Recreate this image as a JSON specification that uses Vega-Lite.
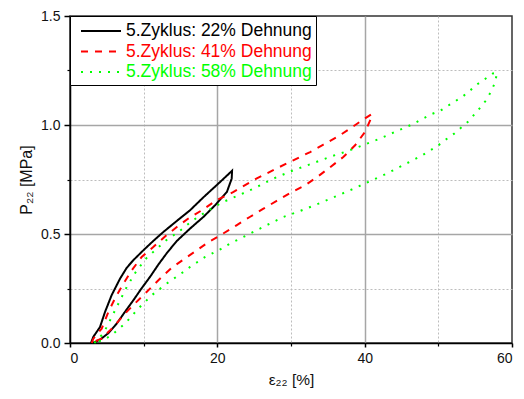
{
"$schema":"https://vega.github.io/schema/vega-lite/v6.json",
"width":442,"height":327,
"autosize":{"type":"none"},
"padding":{"left":70,"top":16,"right":12,"bottom":56},
"background":"white",
"config":{"view":{"stroke":"#333333","strokeWidth":1.5},"font":"Liberation Sans"},
"datasets":{"d":[
{"s":"5.Zyklus: 22% Dehnung","i":1,"x":2.85,"y":0},
{"s":"5.Zyklus: 22% Dehnung","i":2,"x":3.16,"y":0.028},
{"s":"5.Zyklus: 22% Dehnung","i":3,"x":4.07,"y":0.073},
{"s":"5.Zyklus: 22% Dehnung","i":4,"x":4.75,"y":0.142},
{"s":"5.Zyklus: 22% Dehnung","i":5,"x":5.66,"y":0.22},
{"s":"5.Zyklus: 22% Dehnung","i":6,"x":6.79,"y":0.295},
{"s":"5.Zyklus: 22% Dehnung","i":7,"x":7.7,"y":0.345},
{"s":"5.Zyklus: 22% Dehnung","i":8,"x":8.6,"y":0.38},
{"s":"5.Zyklus: 22% Dehnung","i":9,"x":9.95,"y":0.425},
{"s":"5.Zyklus: 22% Dehnung","i":10,"x":11.3,"y":0.468},
{"s":"5.Zyklus: 22% Dehnung","i":11,"x":12.7,"y":0.51},
{"s":"5.Zyklus: 22% Dehnung","i":12,"x":14.5,"y":0.56},
{"s":"5.Zyklus: 22% Dehnung","i":13,"x":16.3,"y":0.609},
{"s":"5.Zyklus: 22% Dehnung","i":14,"x":18.1,"y":0.668},
{"s":"5.Zyklus: 22% Dehnung","i":15,"x":20.1,"y":0.73},
{"s":"5.Zyklus: 22% Dehnung","i":16,"x":22.0,"y":0.79},
{"s":"5.Zyklus: 22% Dehnung","i":17,"x":21.95,"y":0.754},
{"s":"5.Zyklus: 22% Dehnung","i":18,"x":21.3,"y":0.693},
{"s":"5.Zyklus: 22% Dehnung","i":19,"x":19.7,"y":0.632},
{"s":"5.Zyklus: 22% Dehnung","i":20,"x":18.1,"y":0.578},
{"s":"5.Zyklus: 22% Dehnung","i":21,"x":16.3,"y":0.525},
{"s":"5.Zyklus: 22% Dehnung","i":22,"x":14.5,"y":0.468},
{"s":"5.Zyklus: 22% Dehnung","i":23,"x":13.2,"y":0.415},
{"s":"5.Zyklus: 22% Dehnung","i":24,"x":12.0,"y":0.36},
{"s":"5.Zyklus: 22% Dehnung","i":25,"x":10.86,"y":0.303},
{"s":"5.Zyklus: 22% Dehnung","i":26,"x":9.7,"y":0.25},
{"s":"5.Zyklus: 22% Dehnung","i":27,"x":8.6,"y":0.196},
{"s":"5.Zyklus: 22% Dehnung","i":28,"x":7.4,"y":0.14},
{"s":"5.Zyklus: 22% Dehnung","i":29,"x":6.34,"y":0.089},
{"s":"5.Zyklus: 22% Dehnung","i":30,"x":5.2,"y":0.045},
{"s":"5.Zyklus: 22% Dehnung","i":31,"x":4.07,"y":0.015},
{"s":"5.Zyklus: 22% Dehnung","i":32,"x":3.4,"y":0.004},
{"s":"5.Zyklus: 22% Dehnung","i":33,"x":2.85,"y":0},
{"s":"5.Zyklus: 41% Dehnung","i":1,"x":2.95,"y":0},
{"s":"5.Zyklus: 41% Dehnung","i":2,"x":3.17,"y":0.02},
{"s":"5.Zyklus: 41% Dehnung","i":3,"x":4.3,"y":0.066},
{"s":"5.Zyklus: 41% Dehnung","i":4,"x":5.2,"y":0.142},
{"s":"5.Zyklus: 41% Dehnung","i":5,"x":6.1,"y":0.204},
{"s":"5.Zyklus: 41% Dehnung","i":6,"x":7.24,"y":0.272},
{"s":"5.Zyklus: 41% Dehnung","i":7,"x":8.37,"y":0.333},
{"s":"5.Zyklus: 41% Dehnung","i":8,"x":9.73,"y":0.395},
{"s":"5.Zyklus: 41% Dehnung","i":9,"x":11.3,"y":0.44},
{"s":"5.Zyklus: 41% Dehnung","i":10,"x":12.9,"y":0.489},
{"s":"5.Zyklus: 41% Dehnung","i":11,"x":14.5,"y":0.532},
{"s":"5.Zyklus: 41% Dehnung","i":12,"x":16.06,"y":0.571},
{"s":"5.Zyklus: 41% Dehnung","i":13,"x":17.9,"y":0.609},
{"s":"5.Zyklus: 41% Dehnung","i":14,"x":19.9,"y":0.655},
{"s":"5.Zyklus: 41% Dehnung","i":15,"x":22.2,"y":0.693},
{"s":"5.Zyklus: 41% Dehnung","i":16,"x":25.3,"y":0.754},
{"s":"5.Zyklus: 41% Dehnung","i":17,"x":28.0,"y":0.8},
{"s":"5.Zyklus: 41% Dehnung","i":18,"x":30.3,"y":0.838},
{"s":"5.Zyklus: 41% Dehnung","i":19,"x":32.6,"y":0.876},
{"s":"5.Zyklus: 41% Dehnung","i":20,"x":34.4,"y":0.91},
{"s":"5.Zyklus: 41% Dehnung","i":21,"x":36.4,"y":0.948},
{"s":"5.Zyklus: 41% Dehnung","i":22,"x":38.0,"y":0.983},
{"s":"5.Zyklus: 41% Dehnung","i":23,"x":39.8,"y":1.025},
{"s":"5.Zyklus: 41% Dehnung","i":24,"x":40.95,"y":1.05},
{"s":"5.Zyklus: 41% Dehnung","i":25,"x":40.95,"y":1.037},
{"s":"5.Zyklus: 41% Dehnung","i":26,"x":40.05,"y":0.968},
{"s":"5.Zyklus: 41% Dehnung","i":27,"x":38.7,"y":0.907},
{"s":"5.Zyklus: 41% Dehnung","i":28,"x":37.1,"y":0.853},
{"s":"5.Zyklus: 41% Dehnung","i":29,"x":35.3,"y":0.806},
{"s":"5.Zyklus: 41% Dehnung","i":30,"x":33.7,"y":0.765},
{"s":"5.Zyklus: 41% Dehnung","i":31,"x":31.9,"y":0.723},
{"s":"5.Zyklus: 41% Dehnung","i":32,"x":30.0,"y":0.69},
{"s":"5.Zyklus: 41% Dehnung","i":33,"x":28.06,"y":0.652},
{"s":"5.Zyklus: 41% Dehnung","i":34,"x":26.2,"y":0.615},
{"s":"5.Zyklus: 41% Dehnung","i":35,"x":24.4,"y":0.578},
{"s":"5.Zyklus: 41% Dehnung","i":36,"x":22.6,"y":0.54},
{"s":"5.Zyklus: 41% Dehnung","i":37,"x":20.4,"y":0.494},
{"s":"5.Zyklus: 41% Dehnung","i":38,"x":18.8,"y":0.463},
{"s":"5.Zyklus: 41% Dehnung","i":39,"x":17.2,"y":0.425},
{"s":"5.Zyklus: 41% Dehnung","i":40,"x":15.4,"y":0.383},
{"s":"5.Zyklus: 41% Dehnung","i":41,"x":13.8,"y":0.345},
{"s":"5.Zyklus: 41% Dehnung","i":42,"x":12.0,"y":0.288},
{"s":"5.Zyklus: 41% Dehnung","i":43,"x":10.4,"y":0.234},
{"s":"5.Zyklus: 41% Dehnung","i":44,"x":8.8,"y":0.181},
{"s":"5.Zyklus: 41% Dehnung","i":45,"x":7.47,"y":0.135},
{"s":"5.Zyklus: 41% Dehnung","i":46,"x":5.88,"y":0.073},
{"s":"5.Zyklus: 41% Dehnung","i":47,"x":4.3,"y":0.02},
{"s":"5.Zyklus: 41% Dehnung","i":48,"x":3.17,"y":0.005},
{"s":"5.Zyklus: 41% Dehnung","i":49,"x":2.95,"y":0},
{"s":"5.Zyklus: 58% Dehnung","i":1,"x":3.3,"y":0},
{"s":"5.Zyklus: 58% Dehnung","i":2,"x":4.5,"y":0.043},
{"s":"5.Zyklus: 58% Dehnung","i":3,"x":4.98,"y":0.073},
{"s":"5.Zyklus: 58% Dehnung","i":4,"x":6.56,"y":0.18},
{"s":"5.Zyklus: 58% Dehnung","i":5,"x":7.7,"y":0.257},
{"s":"5.Zyklus: 58% Dehnung","i":6,"x":9.05,"y":0.333},
{"s":"5.Zyklus: 58% Dehnung","i":7,"x":10.4,"y":0.39},
{"s":"5.Zyklus: 58% Dehnung","i":8,"x":11.8,"y":0.433},
{"s":"5.Zyklus: 58% Dehnung","i":9,"x":13.2,"y":0.475},
{"s":"5.Zyklus: 58% Dehnung","i":10,"x":14.7,"y":0.509},
{"s":"5.Zyklus: 58% Dehnung","i":11,"x":16.7,"y":0.563},
{"s":"5.Zyklus: 58% Dehnung","i":12,"x":18.8,"y":0.609},
{"s":"5.Zyklus: 58% Dehnung","i":13,"x":20.8,"y":0.647},
{"s":"5.Zyklus: 58% Dehnung","i":14,"x":22.85,"y":0.677},
{"s":"5.Zyklus: 58% Dehnung","i":15,"x":24.9,"y":0.708},
{"s":"5.Zyklus: 58% Dehnung","i":16,"x":27.6,"y":0.754},
{"s":"5.Zyklus: 58% Dehnung","i":17,"x":30.3,"y":0.792},
{"s":"5.Zyklus: 58% Dehnung","i":18,"x":32.6,"y":0.82},
{"s":"5.Zyklus: 58% Dehnung","i":19,"x":35.4,"y":0.855},
{"s":"5.Zyklus: 58% Dehnung","i":20,"x":37.8,"y":0.882},
{"s":"5.Zyklus: 58% Dehnung","i":21,"x":40.0,"y":0.91},
{"s":"5.Zyklus: 58% Dehnung","i":22,"x":42.1,"y":0.938},
{"s":"5.Zyklus: 58% Dehnung","i":23,"x":44.3,"y":0.971},
{"s":"5.Zyklus: 58% Dehnung","i":24,"x":46.6,"y":1.005},
{"s":"5.Zyklus: 58% Dehnung","i":25,"x":47.7,"y":1.025},
{"s":"5.Zyklus: 58% Dehnung","i":26,"x":49.0,"y":1.049},
{"s":"5.Zyklus: 58% Dehnung","i":27,"x":50.2,"y":1.064},
{"s":"5.Zyklus: 58% Dehnung","i":28,"x":51.2,"y":1.086},
{"s":"5.Zyklus: 58% Dehnung","i":29,"x":52.3,"y":1.109},
{"s":"5.Zyklus: 58% Dehnung","i":30,"x":53.4,"y":1.133},
{"s":"5.Zyklus: 58% Dehnung","i":31,"x":54.3,"y":1.158},
{"s":"5.Zyklus: 58% Dehnung","i":32,"x":55.3,"y":1.187},
{"s":"5.Zyklus: 58% Dehnung","i":33,"x":56.3,"y":1.21},
{"s":"5.Zyklus: 58% Dehnung","i":34,"x":57.4,"y":1.236},
{"s":"5.Zyklus: 58% Dehnung","i":35,"x":58.0,"y":1.24},
{"s":"5.Zyklus: 58% Dehnung","i":36,"x":57.6,"y":1.187},
{"s":"5.Zyklus: 58% Dehnung","i":37,"x":57.05,"y":1.147},
{"s":"5.Zyklus: 58% Dehnung","i":38,"x":56.4,"y":1.11},
{"s":"5.Zyklus: 58% Dehnung","i":39,"x":55.7,"y":1.08},
{"s":"5.Zyklus: 58% Dehnung","i":40,"x":54.9,"y":1.049},
{"s":"5.Zyklus: 58% Dehnung","i":41,"x":54.1,"y":1.017},
{"s":"5.Zyklus: 58% Dehnung","i":42,"x":53.1,"y":0.988},
{"s":"5.Zyklus: 58% Dehnung","i":43,"x":52.1,"y":0.959},
{"s":"5.Zyklus: 58% Dehnung","i":44,"x":51.0,"y":0.933},
{"s":"5.Zyklus: 58% Dehnung","i":45,"x":49.9,"y":0.904},
{"s":"5.Zyklus: 58% Dehnung","i":46,"x":47.55,"y":0.856},
{"s":"5.Zyklus: 58% Dehnung","i":47,"x":45.3,"y":0.817},
{"s":"5.Zyklus: 58% Dehnung","i":48,"x":43.0,"y":0.777},
{"s":"5.Zyklus: 58% Dehnung","i":49,"x":40.7,"y":0.742},
{"s":"5.Zyklus: 58% Dehnung","i":50,"x":38.3,"y":0.705},
{"s":"5.Zyklus: 58% Dehnung","i":51,"x":35.9,"y":0.67},
{"s":"5.Zyklus: 58% Dehnung","i":52,"x":33.5,"y":0.636},
{"s":"5.Zyklus: 58% Dehnung","i":53,"x":31.2,"y":0.605},
{"s":"5.Zyklus: 58% Dehnung","i":54,"x":28.95,"y":0.578},
{"s":"5.Zyklus: 58% Dehnung","i":55,"x":26.2,"y":0.532},
{"s":"5.Zyklus: 58% Dehnung","i":56,"x":23.1,"y":0.479},
{"s":"5.Zyklus: 58% Dehnung","i":57,"x":21.7,"y":0.456},
{"s":"5.Zyklus: 58% Dehnung","i":58,"x":20.6,"y":0.433},
{"s":"5.Zyklus: 58% Dehnung","i":59,"x":18.3,"y":0.394},
{"s":"5.Zyklus: 58% Dehnung","i":60,"x":16.3,"y":0.349},
{"s":"5.Zyklus: 58% Dehnung","i":61,"x":15.4,"y":0.326},
{"s":"5.Zyklus: 58% Dehnung","i":62,"x":13.1,"y":0.272},
{"s":"5.Zyklus: 58% Dehnung","i":63,"x":11.1,"y":0.219},
{"s":"5.Zyklus: 58% Dehnung","i":64,"x":9.27,"y":0.158},
{"s":"5.Zyklus: 58% Dehnung","i":65,"x":7.47,"y":0.089},
{"s":"5.Zyklus: 58% Dehnung","i":66,"x":5.88,"y":0.043},
{"s":"5.Zyklus: 58% Dehnung","i":67,"x":4.52,"y":0.012},
{"s":"5.Zyklus: 58% Dehnung","i":68,"x":3.4,"y":0.005},
{"s":"5.Zyklus: 58% Dehnung","i":69,"x":3.3,"y":0}
]},
"data":{"name":"d"},
"layer":[
{"mark":{"type":"line","opacity":0},
 "encoding":{
  "x":{"field":"x","type":"quantitative","scale":{"domain":[0,60],"nice":false,"zero":false},
   "axis":{"orient":"bottom","values":[10,30,50],"title":null,"labels":false,"domain":false,"ticks":true,"tickSize":3,"tickColor":"#000000","tickWidth":1.2,"grid":true,"gridColor":"#bdbdbd","gridDash":[2,2],"gridWidth":1}},
  "y":{"field":"y","type":"quantitative","scale":{"domain":[0,1.5],"nice":false,"zero":false},
   "axis":{"orient":"left","values":[0.25,0.75,1.25],"title":null,"labels":false,"domain":false,"ticks":true,"tickSize":3,"tickColor":"#000000","tickWidth":1.2,"grid":true,"gridColor":"#bdbdbd","gridDash":[2,2],"gridWidth":1}},
  "detail":{"field":"s"},
  "order":{"field":"i"}}},
{"mark":{"type":"line","opacity":0},
 "encoding":{
  "x":{"field":"x","type":"quantitative","axis":{"orient":"bottom","values":[20,40],"title":null,"labels":false,"domain":false,"ticks":false,"grid":true,"gridColor":"#a6a6a6","gridWidth":1.5}},
  "y":{"field":"y","type":"quantitative","axis":{"orient":"left","values":[0.5,1.0],"title":null,"labels":false,"domain":false,"ticks":false,"grid":true,"gridColor":"#a6a6a6","gridWidth":1.5}},
  "detail":{"field":"s"},
  "order":{"field":"i"}}},
{"mark":{"type":"line","strokeWidth":2,"strokeCap":"butt"},
 "encoding":{
  "x":{"field":"x","type":"quantitative","axis":{"orient":"bottom","values":[0,20,40,60],"grid":false,"title":"ε₂₂ [%]","titleFont":"Liberation Sans","titleFontSize":15.5,"titleFontWeight":"normal","titleColor":"#111111","titlePadding":7,"labelFont":"Liberation Sans","labelFontSize":14,"labelColor":"#111111","labelPadding":4,"tickSize":4,"tickWidth":1.5,"tickColor":"#000000","domainColor":"#000000","domainWidth":1.5}},
  "y":{"field":"y","type":"quantitative","axis":{"orient":"left","values":[0,0.5,1.0,1.5],"format":".1f","grid":false,"title":"P₂₂ [MPa]","titleFont":"Liberation Sans","titleFontSize":16,"titleFontWeight":"normal","titleColor":"#111111","titlePadding":6,"labelFont":"Liberation Sans","labelFontSize":14,"labelColor":"#111111","labelPadding":4,"tickSize":6,"tickWidth":1.5,"tickColor":"#000000","domainColor":"#000000","domainWidth":1.5}},
  "color":{"field":"s","type":"nominal","scale":{"domain":["5.Zyklus: 22% Dehnung","5.Zyklus: 41% Dehnung","5.Zyklus: 58% Dehnung"],"range":["#000000","#ff0000","#00ff00"]},
   "legend":{"title":null,"orient":"top-left","offset":0,"strokeColor":"#000000","fillColor":"#ffffff","padding":4,"labelFont":"Liberation Sans","labelFontSize":17.5,"labelLimit":0,"labelColor":{"expr":"scale('color', datum.value)"},"labelOffset":24,"symbolOffset":6,"symbolType":"M-1,0H3","symbolSize":400,"symbolStrokeWidth":2,"rowPadding":0.5}},
  "strokeDash":{"field":"s","type":"nominal","scale":{"domain":["5.Zyklus: 22% Dehnung","5.Zyklus: 41% Dehnung","5.Zyklus: 58% Dehnung"],"range":[[1,0],[7,7],[2,7]]},"legend":null},
  "order":{"field":"i"}}}
],
"resolve":{"axis":{"x":"independent","y":"independent"}}
}
